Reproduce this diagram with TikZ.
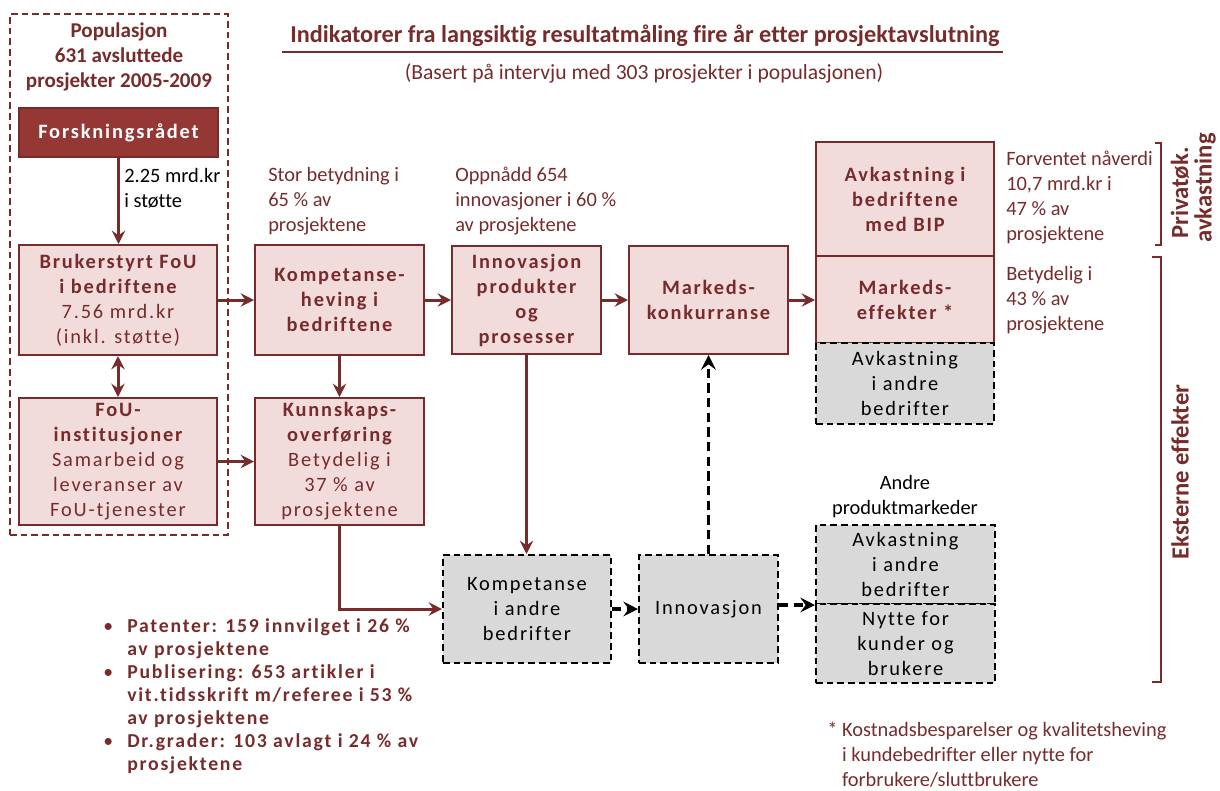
\documentclass[tikz,border=0pt]{standalone}
\usepackage{fontspec}
\setmainfont{Carlito}[Ligatures=NoCommon]
\newfontfamily\spacedfont[LetterSpace=9,Ligatures=NoCommon]{Carlito}
\usetikzlibrary{arrows.meta}
\definecolor{dred}{HTML}{772B2B}
\definecolor{fred}{HTML}{953735}
\definecolor{pinkfill}{HTML}{F2DCDB}
\definecolor{lgrey}{HTML}{D9D9D9}
\tikzset{
 box/.style={draw=dred, line width=1.5pt, fill=pinkfill, text=dred, align=center,
   font=\spacedfont\bfseries\fontsize{15.3}{18.75}\selectfont, inner sep=0pt},
 redbox/.style={draw=dred, line width=1.5pt, fill=fred, text=white, align=center,
   font=\spacedfont\bfseries\fontsize{15.3}{18.75}\selectfont, inner sep=0pt},
 gbox/.style={draw=black, line width=1.5pt, dash pattern=on 5pt off 3pt, fill=lgrey, text=black, align=center,
   font=\spacedfont\fontsize{15.3}{18.75}\selectfont, inner sep=0pt},
 popbox/.style={draw=dred, line width=1.5pt, dash pattern=on 5pt off 3pt, inner sep=0pt},
 arr/.style={draw=dred, line width=2.25pt, -{Stealth[length=10pt,width=10pt,inset=3.5pt]}},
 dblarr/.style={draw=dred, line width=2.25pt, {Stealth[length=10pt,width=10pt,inset=3.5pt]}-{Stealth[length=10pt,width=10pt,inset=3.5pt]}},
 darr/.style={draw=black, line width=2.4pt, dash pattern=on 7pt off 4pt, -{Stealth[length=11pt,width=11pt,inset=4pt]}},
 note/.style={text=dred, align=left, font=\fontsize{15.3}{18.75}\selectfont, inner sep=0pt, anchor=west},
 bracket/.style={draw=dred, line width=1.5pt},
 vlabel/.style={text=dred, font=\bfseries\fontsize{18.5}{20}\selectfont, rotate=90, inner sep=0pt},
}
\begin{document}
\begin{tikzpicture}[x=0.75pt,y=-0.75pt]
\useasboundingbox (0,0) rectangle (1220,790);

% title
\node[text=dred, font=\bfseries\fontsize{18.2}{22}\selectfont, inner sep=0pt] (title) at (645,36) {Indikatorer fra langsiktig resultatmåling fire år etter prosjektavslutning};
\draw[dred, line width=1.5pt] (282,52) -- (1003,52);
\node[text=dred, font=\fontsize{16.2}{19}\selectfont, inner sep=0pt] (subtitle) at (644,73) {(Basert på intervju med 303 prosjekter i populasjonen)};

% population box
\node[popbox, minimum width=163.5pt, minimum height=390.75pt] (pop) at (119,274.5) {};
\node[text=dred, align=center, font=\bfseries\fontsize{15.8}{18.75}\selectfont, inner sep=0pt] (poptext) at (119,57) {Populasjon\\631 avsluttede\\prosjekter 2005-2009};

% boxes
\node[redbox, minimum width=149.25pt, minimum height=36.75pt] (forsk) at (118.5,132.5) {Forskningsrådet};
\node[box, minimum width=148.5pt, minimum height=82.5pt] (bruk) at (118,300) {Brukerstyrt FoU\\i bedriftene\\\mdseries 7.56 mrd.kr\\\mdseries (inkl. støtte)};
\node[box, minimum width=148.5pt, minimum height=95.25pt] (fou) at (118,461.5) {FoU-\\institusjoner\\\mdseries Samarbeid og\\\mdseries leveranser av\\\mdseries FoU-tjenester};
\node[box, minimum width=126.75pt, minimum height=82.5pt] (komp) at (339.5,300) {Kompetanse-\\heving i\\bedriftene};
\node[box, minimum width=126.75pt, minimum height=95.25pt] (kunn) at (339.5,461.5) {Kunnskaps-\\overføring\\\mdseries Betydelig i\\\mdseries 37 \% av\\\mdseries prosjektene};
\node[box, minimum width=111.75pt, minimum height=81pt] (innov) at (526.5,300) {Innovasjon\\produkter\\og\\prosesser};
\node[box, minimum width=119.25pt, minimum height=81pt] (mark) at (708.5,300) {Markeds-\\konkurranse};
\node[box, minimum width=133.5pt, minimum height=85.5pt] (avk) at (905,199) {Avkastning i\\bedriftene\\med BIP};
\node[box, minimum width=133.5pt, minimum height=65.25pt] (meff) at (905,299.5) {Markeds-\\effekter *};
\node[gbox, minimum width=133.5pt, minimum height=60.75pt] (avka) at (905,383.5) {Avkastning\\i andre\\bedrifter};
\node[gbox, minimum width=126pt, minimum height=81pt] (kompa) at (527,609) {Kompetanse\\i andre\\bedrifter};
\node[gbox, minimum width=104.25pt, minimum height=81pt] (innv) at (708.5,609) {Innovasjon};
\node[gbox, minimum width=134.25pt, minimum height=59.25pt] (andre1) at (905.5,564.5) {Avkastning\\i andre\\bedrifter};
\node[gbox, minimum width=134.25pt, minimum height=59.25pt] (andre2) at (905.5,643.5) {Nytte for\\kunder og\\brukere};

% annotations
\node[note, text=black] (n225) at (124,188) {2.25 mrd.kr\\i støtte};
\node[note] (nstor) at (268,201) {Stor betydning i\\65 \% av\\prosjektene};
\node[note] (nopp) at (455,201) {Oppnådd 654\\innovasjoner i 60 \%\\av prosjektene};
\node[note] (nforv) at (1006,198) {Forventet nåverdi\\10,7 mrd.kr i\\47 \% av\\prosjektene};
\node[note] (nbet) at (1006,300) {Betydelig i\\43 \% av\\prosjektene};
\node[note, anchor=center, align=center, text=black] (nandre) at (905,497) {Andre\\produktmarkeder};
\node[note] (nfoot) at (827,755) {* Kostnadsbesparelser og kvalitetsheving\\\phantom{* }i kundebedrifter eller nytte for\\\phantom{* }forbrukere/sluttbrukere};
\node[note, font=\spacedfont\bfseries\fontsize{14.8}{17.25}\selectfont] (bullets) at (103,696) {%
\makebox[18pt][l]{\mdseries•}Patenter: 159 innvilget i 26 \%\\
\hspace*{18pt}av prosjektene\\
\makebox[18pt][l]{\mdseries•}Publisering: 653 artikler i\\
\hspace*{18pt}vit.tidsskrift m/referee i 53 \%\\
\hspace*{18pt}av prosjektene\\
\makebox[18pt][l]{\mdseries•}Dr.grader: 103 avlagt i 24 \% av\\
\hspace*{18pt}prosjektene};

% brackets and side labels
\draw[bracket] (1155,143) -- (1161,143) -- (1161,245) -- (1155,245);
\draw[bracket] (1152,257) -- (1161,257) -- (1161,682) -- (1152,682);
\node[vlabel] (lpriv) at (1180,193) {Privatøk.};
\node[vlabel] (lavk) at (1205,188) {avkastning};
\node[vlabel] (leks) at (1180,472) {Eksterne effekter};

% connectors
\draw[arr] (forsk.south) -- (forsk.south |- bruk.north);
\draw[dblarr] (bruk.south) -- (fou.north);
\draw[arr] (bruk) -- (komp);
\draw[arr] (fou) -- (kunn);
\draw[arr] (komp) -- (kunn);
\draw[arr] (komp) -- (innov);
\draw[arr] (innov) -- (mark);
\draw[arr] (mark.east) -- (mark.east -| meff.west);
\draw[arr] (innov.south) -- (innov.south |- kompa.north);
\draw[arr] (kunn.south) |- (kompa.west);
\draw[darr] (kompa) -- (innv);
\draw[darr] (innv.east |- andre1.south west) -- (andre1.south west);
\draw[darr] (innv.north) -- (innv.north |- mark.south);
\end{tikzpicture}
\end{document}
